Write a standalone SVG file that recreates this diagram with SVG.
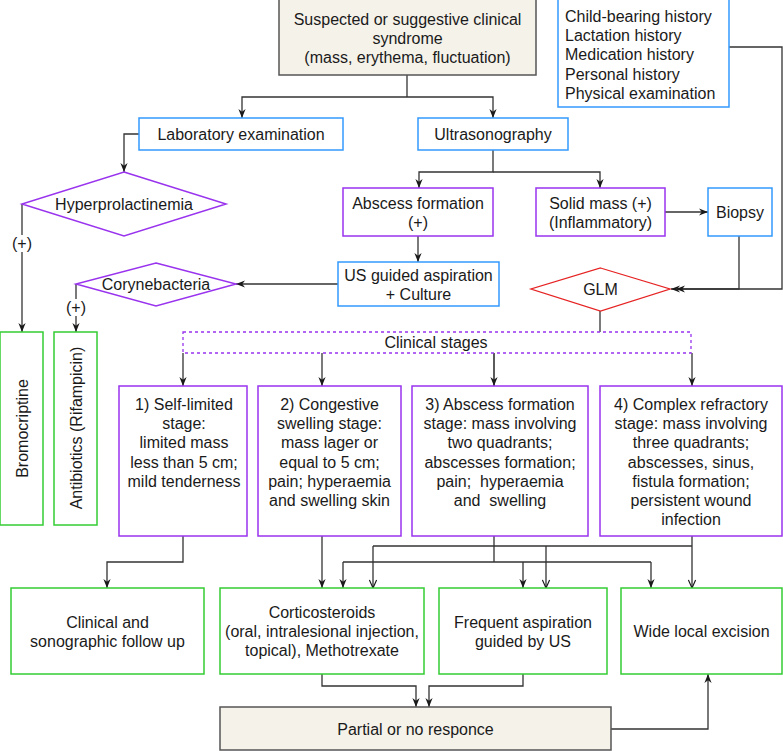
<svg xmlns="http://www.w3.org/2000/svg" width="783" height="751" viewBox="0 0 783 751">
<defs>
<style>
text{font-family:"Liberation Sans",Arial,sans-serif;font-size:16px;fill:#1a1a1a}
.c{text-anchor:middle}
.beige{fill:#f5f2ea;stroke:#555;stroke-width:1.5}
.blue{fill:#fff;stroke:#3399ff;stroke-width:1.5}
.purple{fill:#fff;stroke:#9933ee;stroke-width:1.5}
.green{fill:#fff;stroke:#33cc33;stroke-width:1.5}
.red{fill:#fff;stroke:#e62222;stroke-width:1.3}
.dash{fill:#fff;stroke:#9933ee;stroke-width:1.3;stroke-dasharray:3 3}
.ln{fill:none;stroke:#333;stroke-width:1.3}
.ar{marker-end:url(#arr)}
.op{marker-end:url(#open)}
</style>
<marker id="arr" viewBox="0 0 10 10" refX="10" refY="5" markerWidth="9" markerHeight="9" markerUnits="userSpaceOnUse" orient="auto">
<path d="M0,1 L10,5 L0,9 L3,5 z" fill="#1a1a1a"/>
</marker>
<marker id="open" viewBox="0 0 10 10" refX="10" refY="5" markerWidth="9" markerHeight="9" markerUnits="userSpaceOnUse" orient="auto">
<path d="M1,1 L10,5 L1,9" fill="none" stroke="#1a1a1a" stroke-width="1.3"/>
</marker>
</defs>
<rect width="783" height="751" fill="#fff"/>

<g id="connectors">
<path class="ln" d="M407,75 V97"/>
<path class="ln ar" d="M407,97 H242 V118"/>
<path class="ln ar" d="M407,97 H493 V118"/>
<path class="ln ar" d="M139,134 H124 V172"/>
<path class="ln ar" d="M22,204 V332"/>
<path class="ln ar" d="M493,150 V172 H419 V188"/>
<path class="ln ar" d="M493,172 H600 V188"/>
<path class="ln ar" d="M665,212 H708"/>
<path class="ln ar" d="M418,236 V262"/>
<path class="ln ar" d="M338,284 H236"/>
<path class="ln ar" d="M76,284 V332"/>
<path class="ln ar" d="M739,236 V289 H671"/>
<path class="ln ar" d="M729,47 H782 V289 H676"/>
<path class="ln" d="M600,311 V332"/>
<path class="ln ar" d="M183,353 V386"/>
<path class="ln ar" d="M322,353 V386"/>
<path class="ln ar" d="M494,353 V386" style="stroke-width:1.6"/>
<path class="ln ar" d="M692,353 V386"/>
<path class="ln ar" d="M183,536 V562 H107 V588"/>
<path class="ln ar" d="M322,536 V588"/>
<path class="ln" d="M494,536 V562 M343,562 H651"/>
<path class="ln ar" d="M343,562 V588"/>
<path class="ln ar" d="M523,562 V588"/>
<path class="ln ar" d="M651,562 V588"/>
<path class="ln op" d="M692,536 V588"/>
<path class="ln" d="M373,546 H692"/>
<path class="ln op" d="M373,546 V588"/>
<path class="ln op" d="M546,546 V588"/>
<path class="ln ar" d="M322,674 V686 H416 V707"/>
<path class="ln ar" d="M523,674 V686 H429 V707"/>
<path class="ln ar" d="M611,729 H708 V674"/>
</g>

<g id="n-suspected">
<rect class="beige" x="279" y="-1" width="257" height="76"/>
<text class="c" x="407.5" y="25">Suspected or suggestive clinical</text>
<text class="c" x="407.5" y="44">syndrome</text>
<text class="c" x="407.5" y="63">(mass, erythema, fluctuation)</text>
</g>

<g id="n-history">
<rect class="blue" x="558" y="-1" width="171" height="108"/>
<text x="565" y="22">Child-bearing history</text>
<text x="565" y="41.2">Lactation history</text>
<text x="565" y="60.4">Medication history</text>
<text x="565" y="79.6">Personal history</text>
<text x="565" y="98.8">Physical examination</text>
</g>

<g id="n-lab">
<rect class="blue" x="139" y="118" width="204" height="32"/>
<text class="c" x="241" y="140">Laboratory examination</text>
</g>

<g id="n-us">
<rect class="blue" x="418" y="118" width="150" height="32"/>
<text class="c" x="493" y="140">Ultrasonography</text>
</g>

<g id="n-hyper">
<polygon class="purple" points="124,172 226,204 124,236 22,204"/>
<text class="c" x="124" y="209.5">Hyperprolactinemia</text>
</g>

<g id="n-abscess">
<rect class="purple" x="343" y="188" width="150" height="48"/>
<text class="c" x="418" y="208.5">Abscess formation</text>
<text class="c" x="418" y="227.5">(+)</text>
</g>

<g id="n-solid">
<rect class="purple" x="536" y="188" width="129" height="48"/>
<text class="c" x="600.5" y="208.5">Solid mass (+)</text>
<text class="c" x="600.5" y="227.5">(Inflammatory)</text>
</g>

<g id="n-biopsy">
<rect class="blue" x="708" y="188" width="64" height="48"/>
<text class="c" x="740" y="217.5">Biopsy</text>
</g>

<g id="n-aspiration">
<rect class="blue" x="338" y="262" width="161" height="44"/>
<text class="c" x="418.5" y="280.5">US guided aspiration</text>
<text class="c" x="418.5" y="299.5">+ Culture</text>
</g>

<g id="n-coryne">
<polygon class="purple" points="156,263 236,284 156,306 76,284"/>
<text class="c" x="156" y="289.5">Corynebacteria</text>
</g>

<g id="n-glm">
<polygon class="red" points="600.5,268 670,289 600.5,311 531,289"/>
<text class="c" x="600.5" y="294.5">GLM</text>
</g>

<g id="l-plus1">
<rect x="10" y="235" width="24" height="17" fill="#fff"/>
<text class="c" x="22" y="248.5">(+)</text>
</g>
<g id="l-plus2">
<rect x="64" y="299" width="24" height="17" fill="#fff"/>
<text class="c" x="76" y="312.5">(+)</text>
</g>

<g id="n-bromo">
<rect class="green" x="0" y="332" width="43" height="193"/>
<text class="c" transform="translate(22,428.5) rotate(-90)" x="0" y="5.5">Bromocriptine</text>
</g>

<g id="n-antibiotics">
<rect class="green" x="54" y="332" width="43" height="193"/>
<text class="c" transform="translate(76,428) rotate(-90)" x="0" y="5.5">Antibiotics (Rifampicin)</text>
</g>

<g id="n-stages">
<rect class="dash" x="183" y="332" width="508" height="21"/>
<text class="c" x="436" y="348">Clinical stages</text>
</g>

<g id="n-stage1">
<rect class="purple" x="119" y="386" width="128" height="150"/>
<text class="c" x="184" y="410">1) Self-limited</text>
<text class="c" x="184" y="429.2">stage:</text>
<text class="c" x="184" y="448.4">limited mass</text>
<text class="c" x="184" y="467.6">less than 5 cm;</text>
<text class="c" x="184" y="486.8">mild tenderness</text>
</g>

<g id="n-stage2">
<rect class="purple" x="258" y="386" width="143" height="150"/>
<text class="c" x="329.5" y="410">2) Congestive</text>
<text class="c" x="329.5" y="429.2">swelling stage:</text>
<text class="c" x="329.5" y="448.4">mass lager or</text>
<text class="c" x="329.5" y="467.6">equal to 5 cm;</text>
<text class="c" x="329.5" y="486.8">pain; hyperaemia</text>
<text class="c" x="329.5" y="506">and swelling skin</text>
</g>

<g id="n-stage3">
<rect class="purple" x="412" y="386" width="176" height="150"/>
<text class="c" x="500" y="410">3) Abscess formation</text>
<text class="c" x="500" y="429.2">stage: mass involving</text>
<text class="c" x="500" y="448.4">two quadrants;</text>
<text class="c" x="500" y="467.6">abscesses formation;</text>
<text class="c" x="500" y="486.8" xml:space="preserve">pain;  hyperaemia</text>
<text class="c" x="500" y="506" xml:space="preserve">and  swelling</text>
</g>

<g id="n-stage4">
<rect class="purple" x="600" y="386" width="182" height="150"/>
<text class="c" x="691" y="410">4) Complex refractory</text>
<text class="c" x="691" y="429.2">stage: mass involving</text>
<text class="c" x="691" y="448.4">three quadrants;</text>
<text class="c" x="691" y="467.6">abscesses, sinus,</text>
<text class="c" x="691" y="486.8">fistula formation;</text>
<text class="c" x="691" y="506">persistent wound</text>
<text class="c" x="691" y="525.2">infection</text>
</g>

<g id="n-followup">
<rect class="green" x="11" y="588" width="193" height="86"/>
<text class="c" x="107.5" y="627.5">Clinical and</text>
<text class="c" x="107.5" y="646.5">sonographic follow up</text>
</g>

<g id="n-cortico">
<rect class="green" x="220" y="588" width="204" height="86"/>
<text class="c" x="322" y="617.5">Corticosteroids</text>
<text class="c" x="322" y="636.5">(oral, intralesional injection,</text>
<text class="c" x="322" y="655.5">topical), Methotrexate</text>
</g>

<g id="n-frequent">
<rect class="green" x="439" y="588" width="168" height="86"/>
<text class="c" x="523" y="627.5">Frequent aspiration</text>
<text class="c" x="523" y="646.5">guided by US</text>
</g>

<g id="n-excision">
<rect class="green" x="621" y="588" width="161" height="86"/>
<text class="c" x="701.5" y="636.5">Wide local excision</text>
</g>

<g id="n-partial">
<rect class="beige" x="220" y="707" width="391" height="43"/>
<text class="c" x="415.5" y="734.5">Partial or no responce</text>
</g>
</svg>
